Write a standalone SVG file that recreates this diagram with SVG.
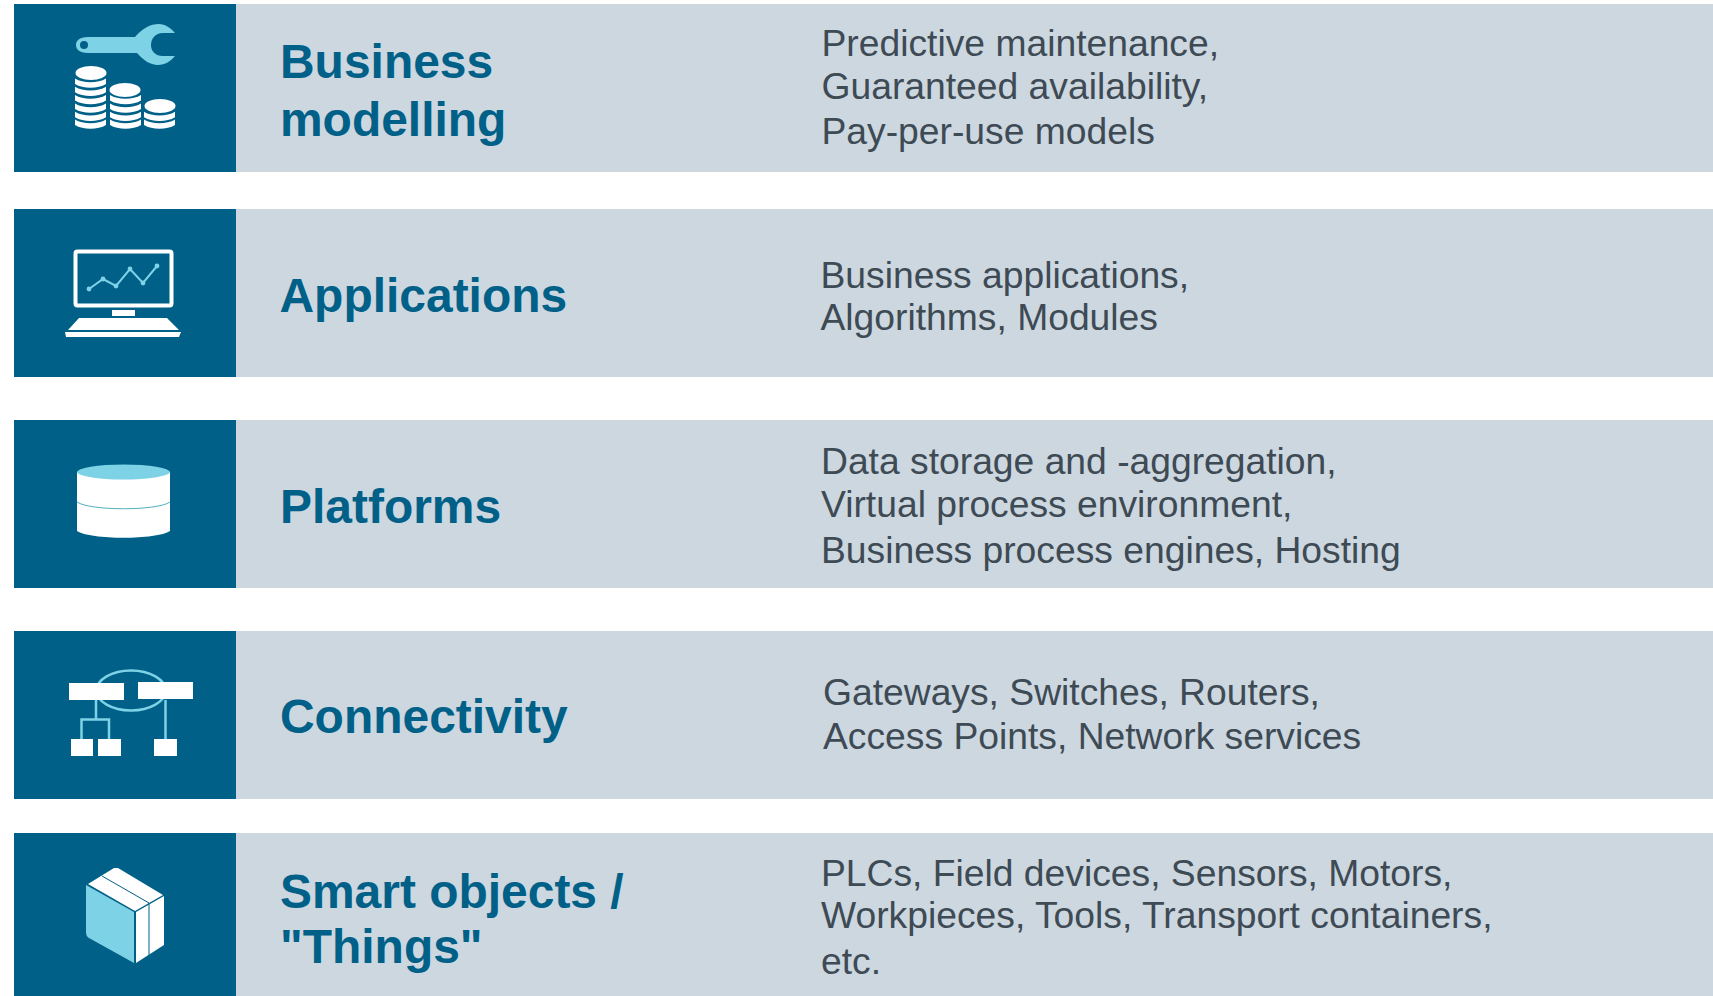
<svg xmlns="http://www.w3.org/2000/svg" width="1713" height="996" viewBox="0 0 1713 996">
<style>
.bar{fill:#ccd7e0}.tile{fill:#006088}
.t{font-family:"Liberation Sans",Arial,sans-serif;font-weight:700;font-size:47.950px;fill:#006088}
.d{font-family:"Liberation Sans",Arial,sans-serif;font-size:37.250px;fill:#3e4a54}
.w{fill:#fff}.c{fill:#7dd2e6}.ln{fill:none;stroke:#7dd2e6;stroke-width:2.500}
</style>
<rect width="1713" height="996" fill="#fff"/>
<defs>
<path id="coin" d="M0 0C8 5 23 5 31 0V5.500C23 10.500 8 10.500 0 5.500Z" fill="#fff"/>
<circle id="dot" r="2.400" fill="#7dd2e6"/>
</defs>
<g id="business">
<rect class="bar" x="236" y="4" width="1477" height="168"/><rect class="tile" x="14" y="4" width="222" height="168"/>
<path class="c" d="M88 37H135C143 28 150 24 159 24C165 24 171 28 175 33H163C155 33 151 39 151 45C151 51 155 56 163 56H175C171 61 165 65 158 65C150 65 143 60 137 53H88C79 53 76 49 76 45C76 41 79 37 88 37Z"/>
<circle class="tile" cx="84" cy="45" r="4"/>
<g class="w">
<ellipse cx="91" cy="73" rx="15.500" ry="7"/>
<use href="#coin" x="75" y="78.500"/><use href="#coin" x="75" y="86.800"/><use href="#coin" x="75" y="95.100"/><use href="#coin" x="75" y="103.400"/><use href="#coin" x="75" y="111.700"/><use href="#coin" x="75" y="119.500"/>
<ellipse cx="125" cy="90" rx="15.500" ry="7"/>
<use href="#coin" x="110" y="95.100"/><use href="#coin" x="110" y="103.400"/><use href="#coin" x="110" y="111.700"/><use href="#coin" x="110" y="119.500"/>
<ellipse cx="160" cy="106" rx="15.500" ry="7"/>
<use href="#coin" x="144" y="111.700"/><use href="#coin" x="144" y="119.500"/>
</g>
<text class="t" x="280" y="78">Business</text><text class="t" x="280" y="136">modelling</text>
<text class="d" x="821.500" y="56">Predictive maintenance,</text><text class="d" x="821.500" y="99">Guaranteed availability,</text><text class="d" x="821.500" y="144">Pay-per-use models</text>
</g>
<g id="applications">
<rect class="bar" x="236" y="209" width="1477" height="168"/><rect class="tile" x="14" y="209" width="222" height="168"/>
<rect x="75.500" y="251.500" width="96" height="54" rx="2" fill="none" stroke="#fff" stroke-width="4"/>
<path d="M89 289L103 279L116 286L130 269L143 283L157 266" fill="none" stroke="#7dd2e6" stroke-width="2"/>
<use href="#dot" x="89" y="289"/><use href="#dot" x="103" y="279"/><use href="#dot" x="116" y="286"/><use href="#dot" x="130" y="269"/><use href="#dot" x="143" y="283"/><use href="#dot" x="157" y="266"/>
<rect class="w" x="112" y="310" width="23" height="6"/>
<path class="w" d="M79 318H167L179 330H68ZM65 332H181L179 337H66Z"/>
<text class="t" x="279.500" y="312">Applications</text>
<text class="d" x="820.500" y="288">Business applications,</text><text class="d" x="820.500" y="330">Algorithms, Modules</text>
</g>
<g id="platforms">
<rect class="bar" x="236" y="420" width="1477" height="168"/><rect class="tile" x="14" y="420" width="222" height="168"/>
<path class="w" d="M77 472V531C90 540 157 540 170 531V472Z"/>
<ellipse class="c" cx="123.500" cy="472" rx="46.500" ry="7.500"/>
<path d="M77 502C90 511 157 511 170 502" fill="none" stroke="#4fb0bd" stroke-width="1"/>
<text class="t" x="280" y="523">Platforms</text>
<text class="d" x="821" y="474">Data storage and -aggregation,</text><text class="d" x="821" y="517">Virtual process environment,</text><text class="d" x="821" y="563">Business process engines, Hosting</text>
</g>
<g id="connectivity">
<rect class="bar" x="236" y="631" width="1477" height="168"/><rect class="tile" x="14" y="631" width="222" height="168"/>
<ellipse class="ln" cx="131" cy="690.500" rx="34.500" ry="20"/>
<path class="ln" d="M96 700V719.500M81.500 740V719.500H109V740M165.500 700V740"/>
<g class="w"><rect x="69" y="683" width="55" height="17"/><rect x="138" y="682" width="55" height="17"/><rect x="71" y="739" width="22" height="17"/><rect x="98" y="739" width="23" height="17"/><rect x="154" y="739" width="23" height="17"/></g>
<text class="t" x="280" y="733">Connectivity</text>
<text class="d" x="823" y="705">Gateways, Switches, Routers,</text><text class="d" x="823" y="749">Access Points, Network services</text>
</g>
<g id="things">
<rect class="bar" x="236" y="833" width="1477" height="163"/><rect class="tile" x="14" y="833" width="222" height="163"/>
<path class="w" d="M88 884L114 868H118L163 895L135 911Z"/>
<path class="c" d="M86 885L134 912V963L89 938C87 937 86 935 86 932Z"/>
<path class="w" d="M136 912L164 896V945L136 963Z"/>
<path d="M102 876L149 903M149 903V955" fill="none" stroke="#006088" stroke-width="1"/>
<text class="t" x="280" y="908">Smart objects /</text><text class="t" x="280" y="963">"Things"</text>
<text class="d" x="821" y="886">PLCs, Field devices, Sensors, Motors,</text><text class="d" x="821" y="928">Workpieces, Tools, Transport containers,</text><text class="d" x="821" y="974">etc.</text>
</g>
<g id="connectors"></g>
</svg>
